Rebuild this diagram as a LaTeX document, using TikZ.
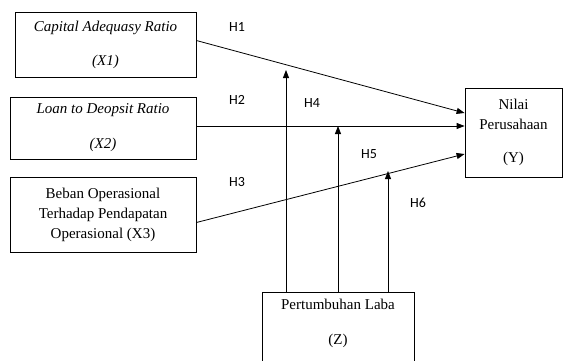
\documentclass[tikz,border=0pt]{standalone}
\usepackage{fontspec}
\setmainfont{Liberation Serif}
\newfontfamily\hfont{Carlito}
\usetikzlibrary{positioning}
\usetikzlibrary{arrows.meta}

\begin{document}
\begin{tikzpicture}[x=1pt, y=-1pt,
    box/.style={draw, line width=0.8pt, inner sep=0pt, align=center,
        font=\fontsize{15}{20}\selectfont},
    arr/.style={-{Triangle[length=8pt, width=6pt]}, line width=0.8pt},
    hyp/.style={font=\hfont\fontsize{14}{16}\selectfont}]
    \clip (0,0) rectangle (563,360);

    % Independent variables
    \node[box, minimum width=181, minimum height=65] (x1) at (105.5,44.5)
        {\textit{Capital Adequasy Ratio}\\[14pt]\textit{(X1)}};
    \node[box, minimum width=186, minimum height=62] (x2) at (103,128)
        {\textit{Loan to Deopsit Ratio}\\[15pt]\textit{(X2)}};
    \node[box, minimum width=186, minimum height=75] (x3) at (103,214.5)
        {Beban Operasional\\Terhadap Pendapatan\\Operasional (X3)};

    % Dependent variable
    \node[box, minimum width=97, minimum height=89] (y) at (513.5,132.5)
        {Nilai\\Perusahaan\\[13pt](Y)};

    % Moderating variable
    \node[box, minimum width=152, minimum height=90, anchor=north] (z) at (338,292) {};
    \node[align=center, inner sep=0pt, anchor=north,
        font=\fontsize{15}{20}\selectfont] (zt) at ([yshift=-7pt]z.north)
        {Pertumbuhan Laba\\[15pt](Z)};

    % Direct paths
    \draw[arr] ([yshift=4pt]x1.east) -- ([yshift=19.5pt]y.west);
    \draw[arr] ([yshift=2pt]x2.east) -- ([yshift=2pt]x2.east -| y.west);
    \draw[arr] ([yshift=-8pt]x3.east) -- ([yshift=-21.5pt]y.west);

    % Moderating paths
    \coordinate (m1) at (286,70);
    \coordinate (m2) at (338,126);
    \coordinate (m3) at (388,171);
    \foreach \i in {1,2,3}
        \draw[arr] (z.north -| m\i) -- (m\i);

    % Hypotheses
    \node[hyp] (h1) at (237,27) {H1};
    \node[hyp] (h2) at (237,100) {H2};
    \node[hyp] (h3) at (237,182) {H3};
    \node[hyp] (h4) at (312,103) {H4};
    \node[hyp] (h5) at (369,154) {H5};
    \node[hyp] (h6) at (418,203) {H6};
\end{tikzpicture}
\end{document}
